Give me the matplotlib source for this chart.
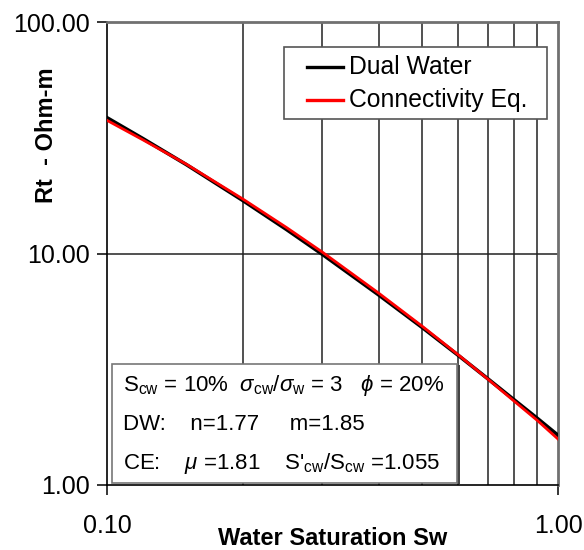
import numpy as np
from matplotlib import pyplot as plt
from matplotlib.lines import Line2D
from matplotlib.patches import Rectangle
from matplotlib.ticker import FixedLocator, NullFormatter, FormatStrFormatter

plt.rcParams["font.family"] = ["Liberation Sans", "DejaVu Sans"]
plt.rcParams["mathtext.fontset"] = "custom"
plt.rcParams["mathtext.rm"] = "Liberation Sans"
plt.rcParams["mathtext.it"] = "Liberation Sans:italic"

# water saturation
sw = [0.10, 0.12, 0.15, 0.20, 0.25, 0.30, 0.40, 0.50, 0.60, 0.70, 0.80, 0.90, 1.00]
# Rt, ohm-m
rt_dual_water = [38.6, 31.4, 24.2, 16.95, 12.7, 9.93, 6.63, 4.79, 3.64, 2.87, 2.33, 1.94, 1.64]
rt_connectivity = [37.6, 31.0, 24.3, 17.2, 12.95, 10.15, 6.75, 4.85, 3.66, 2.86, 2.30, 1.90, 1.58]
series_names = ["Dual Water", "Connectivity Eq."]
series_colors = ["black", "#ff0000"]

x_ticks = [0.1, 1.0]
y_ticks = [1.0, 10.0, 100.0]
x_grid = [0.2, 0.3, 0.4, 0.5, 0.6, 0.7, 0.8, 0.9]

W, H = 584, 550


def fx(px):
    return px / W


def fy(py):
    return 1 - py / H


fig = plt.figure(figsize=(W / 100, H / 100), dpi=100)
ax = fig.add_axes([fx(107), fy(485), 451 / W, 463 / H])

ax.plot(sw, rt_dual_water, color=series_colors[0], lw=2.6, zorder=3)
ax.plot(sw, rt_connectivity, color=series_colors[1], lw=2.0, zorder=4)

ax.set_xscale("log")
ax.set_yscale("log")
ax.set_xlim(0.1, 1.0)
ax.set_ylim(1.0, 100.0)

ax.xaxis.set_major_locator(FixedLocator(x_ticks))
ax.xaxis.set_minor_locator(FixedLocator(x_grid))
ax.xaxis.set_major_formatter(FormatStrFormatter("%.2f"))
ax.xaxis.set_minor_formatter(NullFormatter())
ax.yaxis.set_major_locator(FixedLocator(y_ticks))
ax.yaxis.set_minor_locator(FixedLocator([]))
ax.yaxis.set_major_formatter(FormatStrFormatter("%.2f"))

for x in x_grid:
    ax.axvline(x, color="#222222", lw=1.1, zorder=1)
ax.axhline(10.0, color="#222222", lw=1.1, zorder=1)

ax.tick_params(axis="both", which="major", direction="out", length=7, width=1.1,
               labelsize=18, color="black")
ax.tick_params(axis="x", which="minor", length=0)
ax.tick_params(axis="y", pad=5.5)
ax.tick_params(axis="x", pad=14)

for side in ["top", "right"]:
    ax.spines[side].set_color("#707070")
    ax.spines[side].set_linewidth(2.0)
for side in ["left", "bottom"]:
    ax.spines[side].set_color("black")
    ax.spines[side].set_linewidth(1.2)

ax.set_xlabel("Water Saturation Sw", fontsize=17, fontweight="bold")
ax.xaxis.set_label_coords(0.5, -0.091)
ax.set_ylabel("Rt  - Ohm-m", fontsize=17, fontweight="bold")
ax.yaxis.set_label_coords(-0.108, 0.756)

# legend, drawn by hand to match the spacing of the original
fig.patches.append(Rectangle((fx(284), fy(119)), 263 / W, 72 / H, transform=fig.transFigure,
                             facecolor="white", edgecolor="#555555", lw=1.2, zorder=5))
for name, color, yc in zip(series_names, series_colors, [67, 100]):
    fig.lines.append(Line2D([fx(307), fx(343)], [fy(yc), fy(yc)], transform=fig.transFigure,
                            color=color, lw=2.4, zorder=6))
    fig.text(fx(349), fy(yc), name, fontsize=17.8, va="center", ha="left", zorder=6)

# parameter box
bx0, by0, bx1, by1 = 112, 364, 457, 483
fig.patches.append(Rectangle((fx(bx0), fy(by1)), (bx1 - bx0) / W, (by1 - by0) / H,
                             transform=fig.transFigure, facecolor="white",
                             edgecolor="#777777", lw=1.2, zorder=5))
fig.patches.append(Rectangle((fx(bx1 + 1), fy(by1 + 1)), 2 / W, (by1 - by0) / H,
                             transform=fig.transFigure, facecolor="#444444",
                             edgecolor="none", zorder=5))

lines = [
    r"S$_{\rm cw}$ = 10%  $\sigma_{\rm cw}$/$\sigma_{\rm w}$ = 3   $\phi$ = 20%",
    r"DW:    n=1.77     m=1.85",
    r"CE:    $\mu$ =1.81    S'$_{\rm cw}$/S$_{\rm cw}$ =1.055",
]
for text, yc in zip(lines, [385, 424, 464]):
    fig.text(fx(123), fy(yc), text, fontsize=16, va="center", ha="left", zorder=6)

plt.savefig("out.png", dpi=100)
